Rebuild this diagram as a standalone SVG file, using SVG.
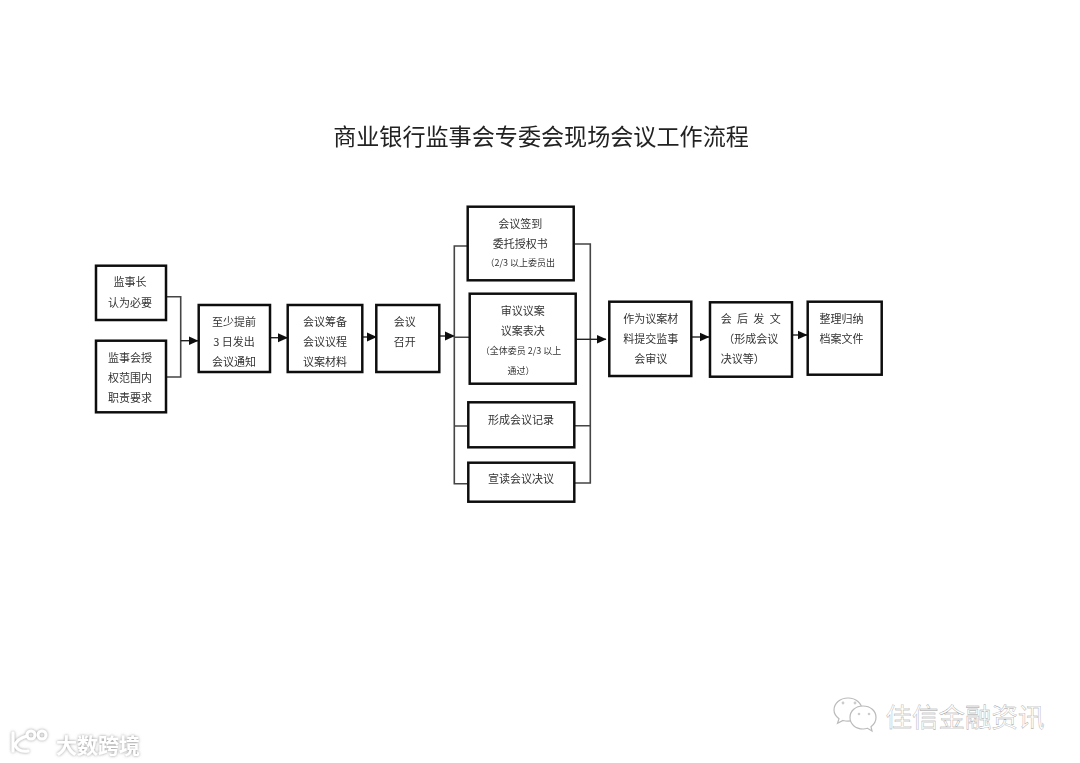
<svg xmlns="http://www.w3.org/2000/svg" width="1080" height="763" viewBox="0 0 1080 763">
<style>
text{font-family:"Noto Sans CJK SC","Liberation Sans",sans-serif;fill:#333;font-size:11px;text-anchor:middle;dominant-baseline:central}
.title{font-size:23.1px;fill:#222}
.sm{font-size:9px}
.box{fill:#fff;stroke:#111;stroke-width:2.5}
.line{fill:none;stroke:#222;stroke-width:1.4}
.bus{fill:none;stroke:#444;stroke-width:1.6}
.wm{fill:#fff;stroke:#999;stroke-width:.35;font-size:26.500px}
.wm2{fill:#fff;font-size:21px;font-weight:700}
.ico{fill:#fff;stroke:#bbb;stroke-width:1.2}
.dot{fill:#ccc}
.logo{fill:none;stroke:#fff;stroke-width:3;stroke-linecap:round}
</style>
<defs>
<marker id="arrow" markerUnits="userSpaceOnUse" markerWidth="10" markerHeight="10" refX="9.500" refY="5" orient="auto"><path d="M0 .5L10 5L0 9.500Z" fill="#111"/></marker>
<filter id="soft" x="-5%" y="-5%" width="110%" height="110%"><feGaussianBlur stdDeviation=".35"/></filter>
<filter id="glow" x="-20%" y="-30%" width="140%" height="160%"><feDropShadow dx="0" dy="0" stdDeviation="1.400" flood-color="#777" flood-opacity=".8"/></filter>
</defs>
<rect width="1080" height="763" fill="#fff"/>
<g filter="url(#soft)">
<text class="title" x="541" y="135">商业银行监事会专委会现场会议工作流程</text>
<g id="connectors">
<path class="bus" d="M166 296.7H180.7V377H166"/>
<path class="line" d="M180.7 340.7H198" marker-end="url(#arrow)"/>
<path class="line" d="M270 337.7H287.500" marker-end="url(#arrow)"/>
<path class="line" d="M362.300 337H376.500" marker-end="url(#arrow)"/>
<path class="line" d="M439.300 336H454.500" marker-end="url(#arrow)"/>
<path class="bus" d="M467.700 246H454.300V483.700H468.300M454.300 337.300H469.700M454.300 426H468.300"/>
<path class="bus" d="M573.700 244H590.300V483H574.300M574.300 425.700H590.300"/>
<path class="line" d="M575.700 339.300H606" marker-end="url(#arrow)"/>
<path class="line" d="M691.300 337H709" marker-end="url(#arrow)"/>
<path class="line" d="M792 335H807" marker-end="url(#arrow)"/>
</g>
<g id="n1"><rect class="box" x="96" y="265.700" width="70" height="54.300"/><text x="130" y="281">监事长</text><text x="130" y="301.700">认为必要</text></g>
<g id="n2"><rect class="box" x="96" y="340.700" width="70" height="71.600"/><text x="130" y="356.700">监事会授</text><text x="130" y="376.700">权范围内</text><text x="130" y="396.700">职责要求</text></g>
<g id="n3"><rect class="box" x="198.700" y="305" width="71.300" height="67"/><text x="234" y="321">至少提前</text><text x="234" y="341">3 日发出</text><text x="234" y="361">会议通知</text></g>
<g id="n4"><rect class="box" x="287.700" y="305" width="74.600" height="67"/><text x="325" y="321">会议筹备</text><text x="325" y="341">会议议程</text><text x="325" y="361">议案材料</text></g>
<g id="n5"><rect class="box" x="376.300" y="305" width="63" height="67"/><text x="404.700" y="321">会议</text><text x="404.700" y="341">召开</text></g>
<g id="n6"><rect class="box" x="467.700" y="206.700" width="106" height="73.600"/><text x="520.300" y="223.300">会议签到</text><text x="520.300" y="243.300">委托授权书</text><text class="sm" x="520.300" y="262.700">（2/3 以上委员出</text></g>
<g id="n7"><rect class="box" x="469.700" y="293.700" width="106" height="90"/><text x="522.700" y="310">审议议案</text><text x="522.700" y="330">议案表决</text><text class="sm" x="521" y="350">（全体委员 2/3 以上</text><text class="sm" x="521" y="370">通过）</text></g>
<g id="n8"><rect class="box" x="468.300" y="402.300" width="106" height="45"/><text x="521" y="418.500">形成会议记录</text></g>
<g id="n9"><rect class="box" x="468.300" y="462.700" width="106" height="39"/><text x="521" y="478">宣读会议决议</text></g>
<g id="n10"><rect class="box" x="609.300" y="301.700" width="82" height="74.300"/><text x="650.700" y="317.700">作为议案材</text><text x="650.700" y="337.700">料提交监事</text><text x="650.700" y="357.700">会审议</text></g>
<g id="n11"><rect class="box" x="710" y="302.300" width="82" height="74.400"/><text x="750.700" y="318" textLength="60">会 后 发 文</text><text x="750.700" y="338">（形成会议</text><text x="720.700" y="358" style="text-anchor:start">决议等）</text></g>
<g id="n12"><rect class="box" x="807.700" y="301.700" width="74" height="73"/><text x="841.500" y="317.700">整理归纳</text><text x="841.500" y="337.700">档案文件</text></g>
</g>
<g id="watermark-right">
<path class="ico" d="M848 698c-8 0-14 5.500-14 12 0 3.500 2 6.500 5 8.800l-1.500 4.500 5.500-2.800c1.600.4 3.300.6 5 .6 8 0 14-5.100 14-11.100 0-6.500-6-12-14-12z"/>
<path class="ico" d="M863 706c-7.500 0-13 5-13 11.500s5.500 11.500 13 11.500c1.600 0 3-.2 4.500-.7l4.500 2.700-1-4.300c3-2.200 5-5.500 5-9.200 0-6.500-5.500-11.500-13-11.500z"/>
<circle class="dot" cx="843" cy="703" r="1.400"/><circle class="dot" cx="855" cy="703" r="1.400"/><circle class="dot" cx="859" cy="714" r="1.300"/><circle class="dot" cx="869" cy="714" r="1.300"/>
<text class="wm" x="965" y="715">佳信金融资讯</text>
</g>
<g id="watermark-left" filter="url(#glow)">
<path class="logo" d="M13 733V751M27 736C20 738 16 742 15 745C17 750 21 752 28 751"/>
<circle class="logo" cx="31" cy="735" r="4" stroke-width="1.800"/><circle class="logo" cx="42" cy="735" r="4" stroke-width="1.800"/>
<text class="wm2" x="98" y="744">大数跨境</text>
</g>
</svg>
